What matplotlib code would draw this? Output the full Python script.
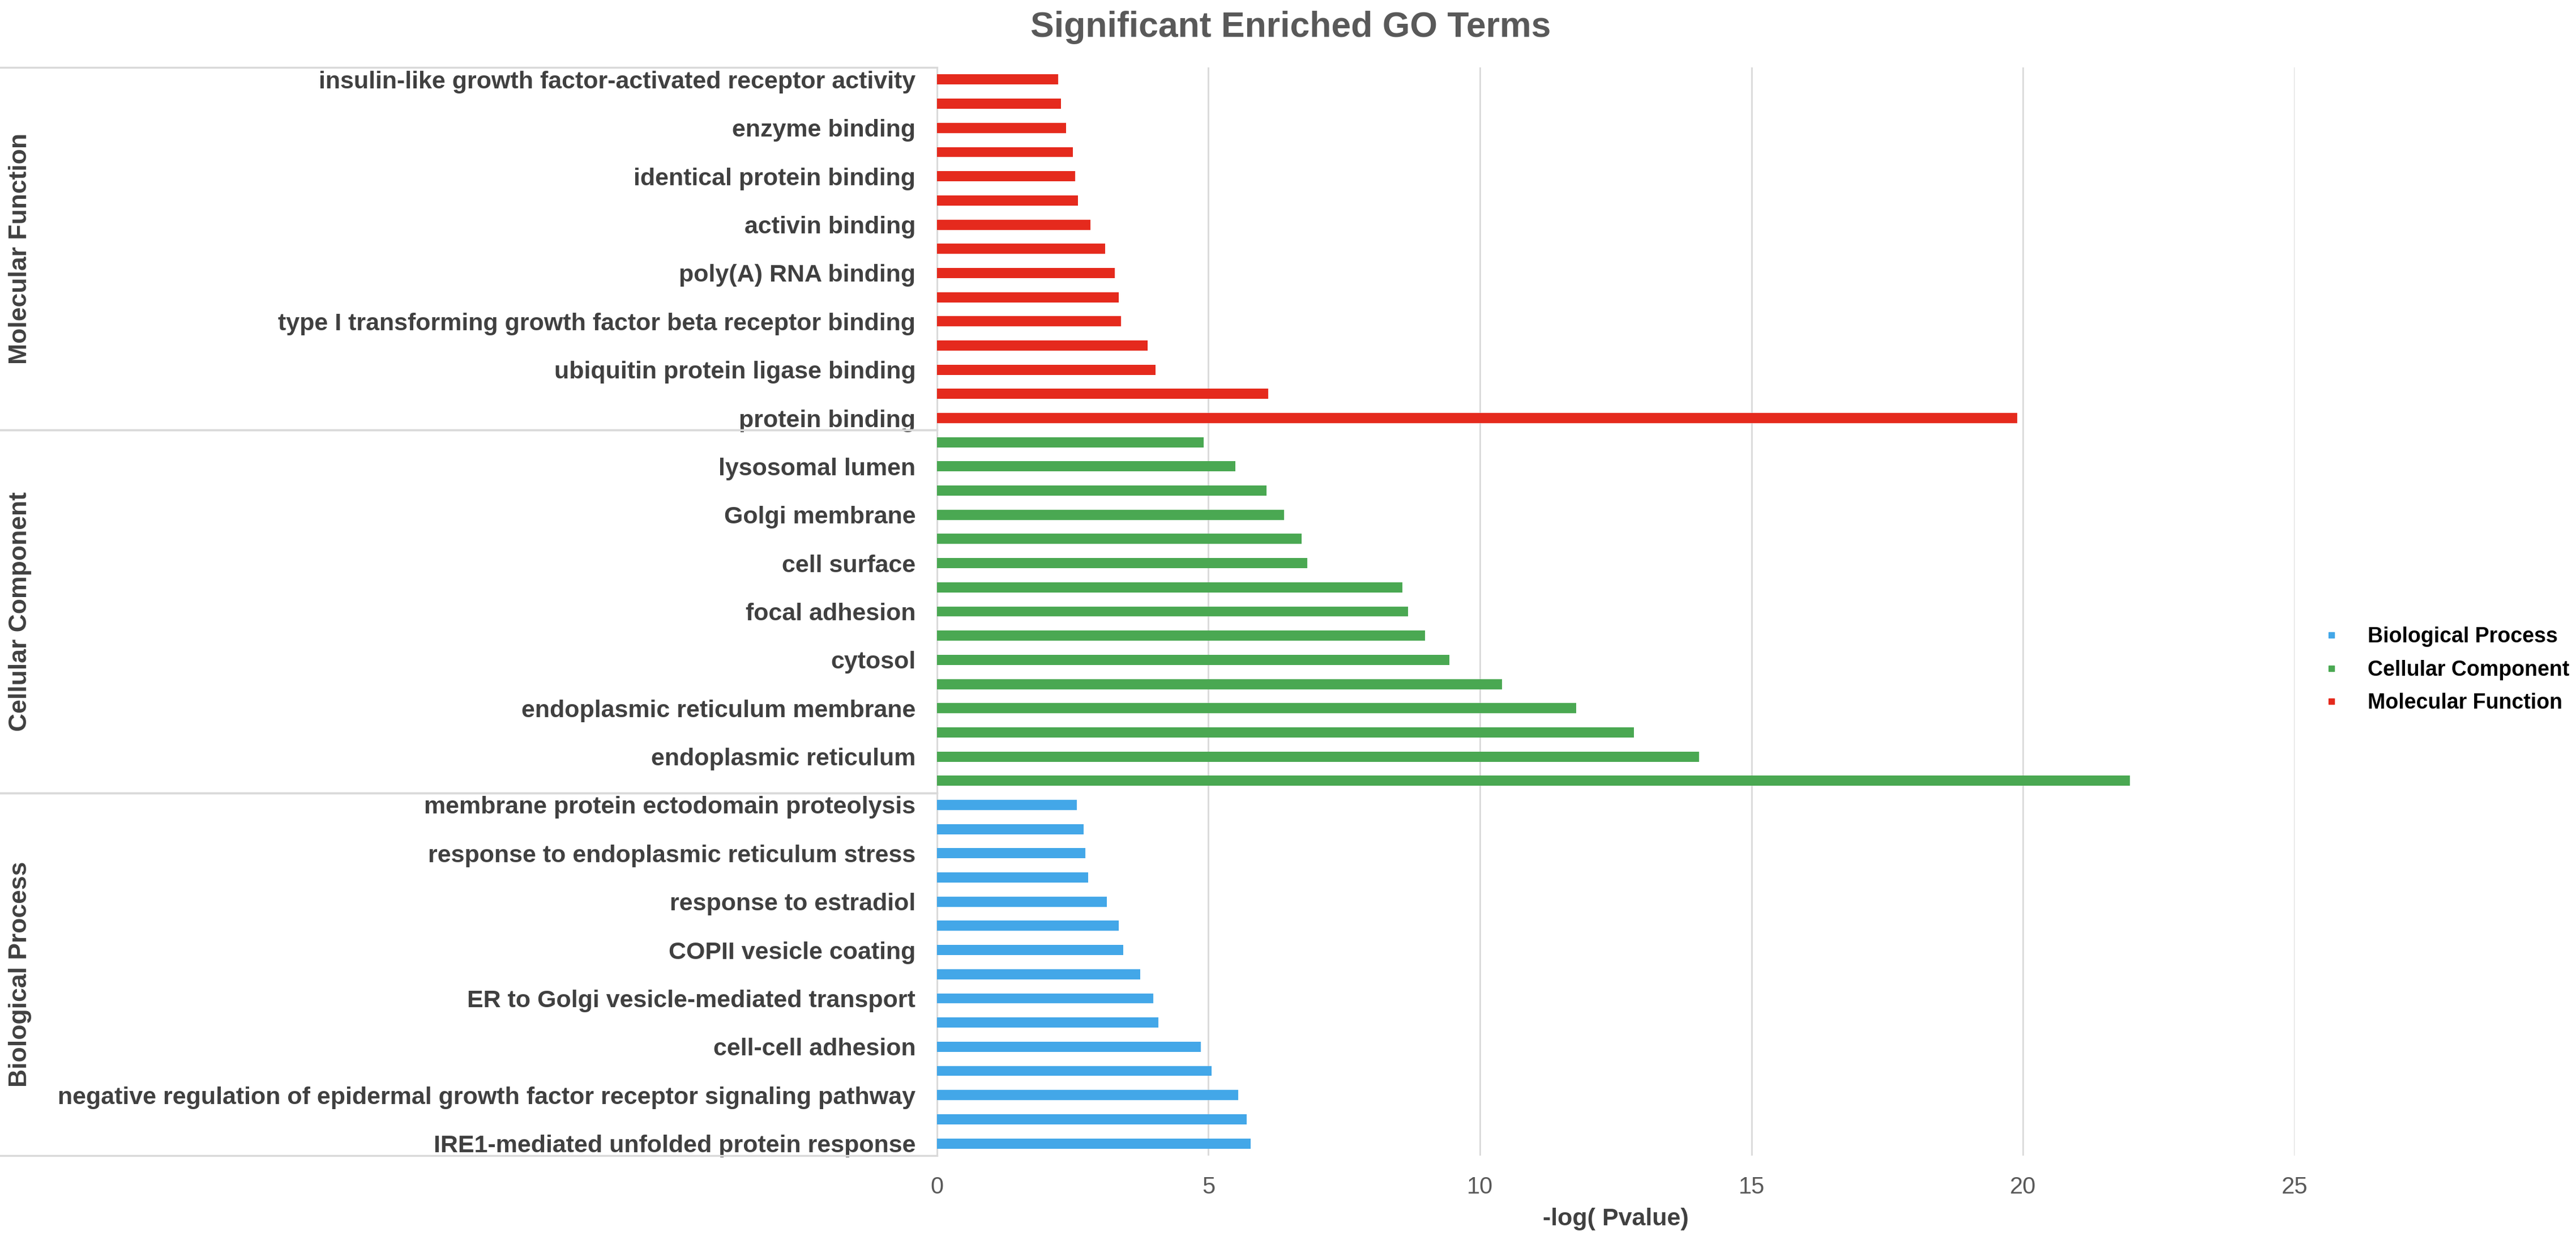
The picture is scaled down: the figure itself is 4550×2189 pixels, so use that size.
"""
Significant Enriched GO Terms - horizontal bar chart.
"""
import matplotlib
matplotlib.use('Agg')
import matplotlib.pyplot as plt
import matplotlib.transforms as mtransforms
from matplotlib.lines import Line2D

plt.rcParams['font.family'] = ['Liberation Sans', 'DejaVu Sans']

# categories are listed bottom -> top, every other label is hidden (as in the original)
bp_labels = ['IRE1-mediated unfolded protein response', '',
             'negative regulation of epidermal growth factor receptor signaling pathway', '',
             'cell-cell adhesion', '',
             'ER to Golgi vesicle-mediated transport', '',
             'COPII vesicle coating', '',
             'response to estradiol', '',
             'response to endoplasmic reticulum stress', '',
             'membrane protein ectodomain proteolysis']
bp_values = [5.78, 5.70, 5.55, 5.06, 4.86, 4.08, 3.98, 3.74, 3.43, 3.35,
             3.13, 2.78, 2.73, 2.70, 2.58]

cc_labels = ['', 'endoplasmic reticulum', '',
             'endoplasmic reticulum membrane', '',
             'cytosol', '', 'focal adhesion', '', 'cell surface', '',
             'Golgi membrane', '', 'lysosomal lumen', '']
cc_values = [21.96, 14.03, 12.83, 11.77, 10.40, 9.44, 8.99, 8.67, 8.57, 6.82,
             6.71, 6.39, 6.07, 5.49, 4.91]

mf_labels = ['protein binding', '',
             'ubiquitin protein ligase binding', '',
             'type I transforming growth factor beta receptor binding', '',
             'poly(A) RNA binding', '', 'activin binding', '',
             'identical protein binding', '', 'enzyme binding', '',
             'insulin-like growth factor-activated receptor activity']
mf_values = [19.89, 6.10, 4.03, 3.88, 3.39, 3.35, 3.27, 3.10, 2.83, 2.60,
             2.54, 2.50, 2.38, 2.28, 2.23]

groups = ['Biological Process', 'Cellular Component', 'Molecular Function']
colors = ['#43A7E8', '#4AA852', '#E52A1D']
x_ticks = [0, 5, 10, 15, 20, 25]

fig = plt.figure(figsize=(45.5, 21.89), dpi=100)
ax = fig.add_axes([0.3637, 0.0681, 0.5271, 0.8775])

all_labels = bp_labels + cc_labels + mf_labels
pos = 0
for vals, col in zip([bp_values, cc_values, mf_values], colors):
    ys = list(range(pos, pos + len(vals)))
    ax.barh(ys, vals, height=0.42, color=col, zorder=3)
    pos += len(vals)

ax.set_xlim(0, 25)
ax.set_ylim(-0.5, len(all_labels) - 0.5)
ax.set_yticks(range(len(all_labels)))
ax.set_yticklabels(all_labels, fontsize=31, fontweight='bold', color='#404040')
ax.tick_params(axis='y', length=0, pad=27)
ax.set_xticks(x_ticks)
ax.set_xticklabels([str(t) for t in x_ticks], fontsize=30, color='#595959')
ax.tick_params(axis='x', length=0, pad=26)

ax.grid(axis='x', color='#d9d9d9', linewidth=2, zorder=0)
for s in ['top', 'right', 'bottom']:
    ax.spines[s].set_visible(False)
ax.spines['left'].set_color('#d9d9d9')
ax.spines['left'].set_linewidth(2)

ax.set_xlabel('-log( Pvalue)', fontsize=31, fontweight='bold', color='#404040',
              va='center')
ax.xaxis.set_label_coords(0.5, -0.0583)

# group separators and group names on the far left
trans = mtransforms.blended_transform_factory(fig.transFigure, ax.transData)
start = 0
for g, vals in zip(groups, [bp_values, cc_values, mf_values]):
    n = len(vals)
    for yy in (start - 0.5, start + n - 0.5):
        ax.add_line(Line2D([0, 0.3637], [yy, yy], transform=trans, color='#d9d9d9',
                           linewidth=2.5, clip_on=False))
    ax.text(0.0079, start + (n - 1) / 2, g, transform=trans, rotation=90,
            ha='center', va='center', fontsize=32, fontweight='bold', color='#404040')
    start += n

handles = [Line2D([], [], marker='s', linestyle='', markersize=7, color=c) for c in colors]
fig.legend(handles, groups, loc='center left', bbox_to_anchor=(0.901, 0.4596),
           frameon=False, borderpad=0, borderaxespad=0, handlelength=1,
           handletextpad=1.2, labelspacing=0.6,
           prop={'size': 27, 'weight': 'bold'})

fig.text(0.501, 1 - 48 / 2189, 'Significant Enriched GO Terms', ha='center', va='center',
         fontsize=45, fontweight='bold', color='#595959')

fig.savefig('out.png', dpi=100)
